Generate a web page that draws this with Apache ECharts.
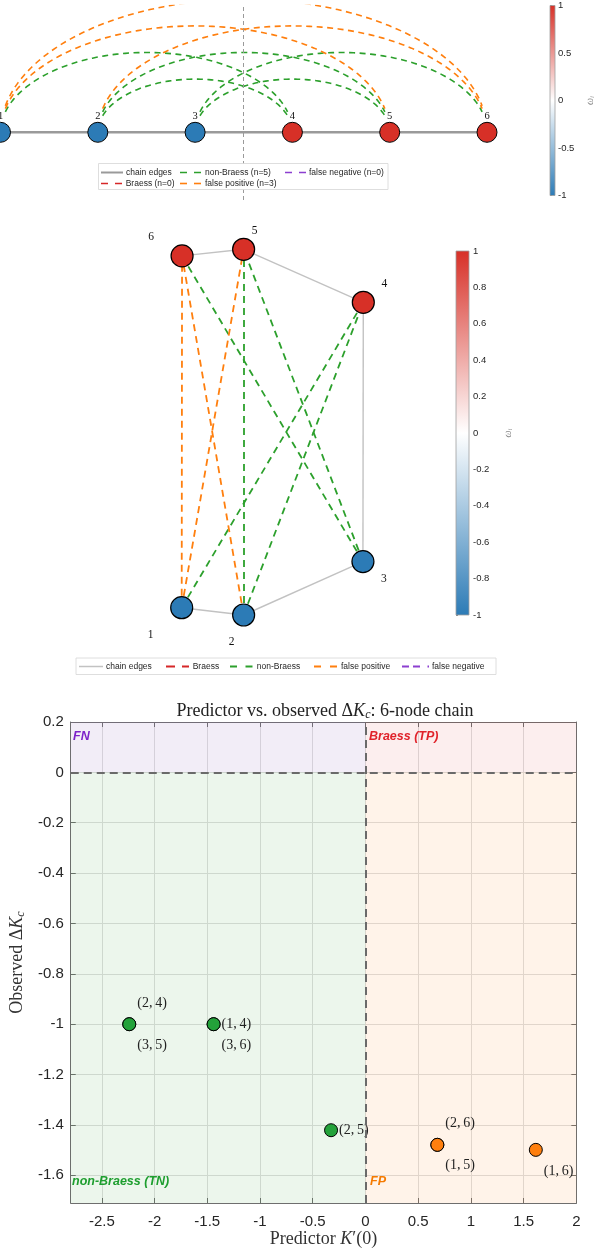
<!DOCTYPE html>
<html>
<head>
<meta charset="utf-8">
<script src="https://cdn.jsdelivr.net/npm/echarts@6/dist/echarts.min.js"></script>
<style>
  html, body { margin: 0; padding: 0; background: #ffffff; }
  #chart { width: 597px; height: 1249px; }
</style>
</head>
<body>
<div id="chart"></div>
<script>
// ---------------- data ----------------
const nodeIds = [1, 2, 3, 4, 5, 6];
const nodeOmega = [-1, -1, -1, 1, 1, 1];
// spring-style layout of the network view (normalised units)
const layoutX = [0.000, 0.341, 0.998, 1.000, 0.341, 0.002];
const layoutY = [0.020, 0.000, 0.146, 0.855, 1.000, 0.982];
const chainFrom = [1, 2, 3, 4, 5];
const chainTo = [2, 3, 4, 5, 6];
// candidate edges added to the chain
const edgeFrom = [2, 3, 1, 3, 2, 2, 1, 1];
const edgeTo = [4, 5, 4, 6, 5, 6, 5, 6];
const edgeClass = ['non-Braess', 'non-Braess', 'non-Braess', 'non-Braess', 'non-Braess',
                   'false positive', 'false positive', 'false positive'];
const predictorK = [-2.24, -2.24, -1.44, -1.44, -0.326, 0.682, 0.682, 1.616];
const observedDK = [-1.0, -1.0, -1.0, -1.0, -1.421, -1.479, -1.479, -1.499];
const classNames = ['Braess', 'non-Braess', 'false positive', 'false negative'];

// ---------------- styling ----------------
const SERIF = 'Liberation Serif';
const SANS = 'Liberation Sans';
const classColor = {
  'Braess': '#d62728',
  'non-Braess': '#2ca02c',
  'false positive': '#ff7f0e',
  'false negative': '#8c3fd0'
};
const BLUE = [44, 123, 182], RED = [215, 48, 39], WHITE = [255, 255, 255];
function omegaColor(w) {
  const t = Math.max(-1, Math.min(1, w));
  const end = t >= 0 ? RED : BLUE, a = Math.abs(t);
  const c = WHITE.map((v, k) => Math.round(v + (end[k] - v) * a));
  return 'rgb(' + c.join(',') + ')';
}
const barStops = [
  { offset: 0, color: omegaColor(1) },
  { offset: 0.5, color: omegaColor(0) },
  { offset: 1, color: omegaColor(-1) }
];
// label placement of the scatter annotations
const labelPlacement = ['above', 'below', 'right', 'below', 'right', 'above', 'below', 'below'];
const placementOffset = { above: [0, -21], below: [0, 21], right: [0, 0] };
// network-view label offsets (px) for nodes 1..6
const nodeLabelOffset = [[-31, 27], [-12, 27], [21, 17], [21, -18], [11, -18], [-31, -19]];

const counts = {};
classNames.forEach(c => counts[c] = edgeClass.filter(e => e === c).length);

// bottom axes extent
const xMin = -2.795, xMax = 2, yMin = -1.71, yMax = 0.2;

// ---------------- top: arc diagram ----------------
const arcEndGap = 0.05;
function arcPoints(i, j) {
  const c = (i + j) / 2, a = Math.abs(j - i) / 2, h = Math.abs(j - i);
  const t0 = Math.acos(1 - arcEndGap / a);
  const pts = [];
  const N = 90;
  for (let k = 0; k <= N; k++) {
    const t = Math.PI - t0 - (Math.PI - 2 * t0) * k / N;
    pts.push([c + a * Math.cos(t), h * Math.sin(t)]);
  }
  return pts;
}
const arcSeries = edgeFrom.map((f, k) => ({
  type: 'line', name: edgeClass[k], xAxisIndex: 0, yAxisIndex: 0,
  data: arcPoints(f, edgeTo[k]), symbol: 'none', smooth: false, silent: true,
  lineStyle: { color: classColor[edgeClass[k]], width: 1.6, type: [6, 4.5] }, z: 2
}));
const lastNeg = Math.max(...nodeIds.filter((id, k) => nodeOmega[k] < 0));
const firstPos = Math.min(...nodeIds.filter((id, k) => nodeOmega[k] > 0));

const topSeries = [
  {
    type: 'line', xAxisIndex: 0, yAxisIndex: 0, silent: true, symbol: 'none', z: 1,
    data: nodeIds.map(id => [id, 0]),
    lineStyle: { color: '#9a9a9a', width: 2.5 },
    markLine: {
      silent: true, symbol: 'none', label: { show: false },
      lineStyle: { color: '#9a9a9a', width: 1, type: [4, 3] },
      data: [{ xAxis: (lastNeg + firstPos) / 2 }]
    }
  },
  ...arcSeries,
  {
    type: 'scatter', xAxisIndex: 0, yAxisIndex: 0, silent: true, z: 4,
    symbolSize: 20,
    data: nodeIds.map((id, k) => ({
      value: [id, 0],
      itemStyle: { color: omegaColor(nodeOmega[k]), borderColor: '#000', borderWidth: 1, opacity: 1 }
    })),
    label: {
      show: true, position: 'top', distance: 0,
      formatter: p => String(nodeIds[p.dataIndex]),
      fontFamily: SERIF, fontSize: 10.5, color: '#111'
    }
  },
  {
    type: 'scatter', xAxisIndex: 0, yAxisIndex: 0, silent: true, z: 5,
    symbolSize: 20, itemStyle: { opacity: 0 },
    data: nodeIds.map(id => [id, 0]),
    label: {
      show: true, position: 'bottom', distance: 1,
      formatter: p => '{w|ω}= ' + (nodeOmega[p.dataIndex] > 0 ? '+1' : '−1'),
      fontFamily: SERIF, fontSize: 9, color: '#8a8a8a',
      rich: { w: { fontFamily: SERIF, fontStyle: 'italic', fontSize: 9, color: '#8a8a8a' } }
    }
  }
];

// ---------------- middle: network view ----------------
const graphLinks = [];
chainFrom.forEach((f, k) => graphLinks.push({
  source: String(f), target: String(chainTo[k]),
  lineStyle: { color: '#c2c2c2', width: 1.4, type: 'solid', opacity: 1 }
}));
edgeFrom.forEach((f, k) => graphLinks.push({
  source: String(f), target: String(edgeTo[k]),
  lineStyle: { color: classColor[edgeClass[k]], width: 1.8, type: [7, 5], opacity: 1 }
}));
const graphSeries = {
  type: 'graph', coordinateSystem: 'cartesian2d', xAxisIndex: 1, yAxisIndex: 1,
  silent: true, roam: false, symbolSize: 22, z: 3,
  edgeSymbol: ['none', 'none'],
  emphasis: { disabled: true },
  data: nodeIds.map((id, k) => ({
    name: String(id),
    value: [layoutX[k], layoutY[k]],
    itemStyle: { color: omegaColor(nodeOmega[k]), borderColor: '#000', borderWidth: 1.2, opacity: 1 },
    label: {
      show: true, position: 'inside', offset: nodeLabelOffset[k],
      formatter: String(id), fontFamily: SERIF, fontSize: 11.5, color: '#111'
    }
  })),
  links: graphLinks
};

// ---------------- colour bars ----------------
function colorBarSeries(xi) {
  return {
    type: 'custom', xAxisIndex: xi, yAxisIndex: xi, silent: true, z: 2,
    data: [[0, -1, 1]],
    renderItem: (params, api) => {
      const tl = api.coord([0, 1]);
      const br = api.coord([1, -1]);
      return {
        type: 'rect',
        shape: { x: tl[0], y: tl[1], width: br[0] - tl[0], height: br[1] - tl[1] },
        style: { fill: new echarts.graphic.LinearGradient(0, 0, 0, 1, barStops), stroke: '#a0a0a0', lineWidth: 0.8 }
      };
    }
  };
}

// ---------------- bottom: predictor vs observed ----------------
function scatterData(cls) {
  const out = [];
  edgeClass.forEach((c, k) => {
    if (c !== cls) return;
    out.push({
      value: [predictorK[k], observedDK[k]],
      label: {
        show: true, position: 'right', distance: 1,
        offset: placementOffset[labelPlacement[k]],
        formatter: '(' + edgeFrom[k] + ',\u2009' + edgeTo[k] + ')'
      }
    });
  });
  return out;
}
const pointLabel = { fontFamily: SERIF, fontSize: 14, color: '#222' };
const bottomSeries = [
  {
    type: 'scatter', name: 'non-Braess', xAxisIndex: 2, yAxisIndex: 2, z: 4,
    symbolSize: 13, silent: true,
    itemStyle: { color: '#23a23a', borderColor: '#000', borderWidth: 1, opacity: 1 },
    label: pointLabel,
    data: scatterData('non-Braess'),
    markArea: {
      silent: true,
      data: [
        [{ coord: [xMin, 0], itemStyle: { color: 'rgba(148,103,189,0.12)' } }, { coord: [0, yMax] }],
        [{ coord: [0, 0], itemStyle: { color: 'rgba(214,39,40,0.08)' } }, { coord: [xMax, yMax] }],
        [{ coord: [xMin, yMin], itemStyle: { color: 'rgba(44,160,44,0.09)' } }, { coord: [0, 0] }],
        [{ coord: [0, yMin], itemStyle: { color: 'rgba(255,127,14,0.09)' } }, { coord: [xMax, 0] }]
      ]
    },
    markLine: {
      silent: true, symbol: 'none', label: { show: false },
      lineStyle: { color: '#6a6a6a', width: 2, type: [8, 5] },
      data: [{ xAxis: 0 }, { yAxis: 0 }]
    }
  },
  {
    type: 'scatter', name: 'false positive', xAxisIndex: 2, yAxisIndex: 2, z: 4,
    symbolSize: 13, silent: true,
    itemStyle: { color: '#ff7f0e', borderColor: '#000', borderWidth: 1, opacity: 1 },
    label: pointLabel,
    data: scatterData('false positive')
  }
];

// ---------------- axes ----------------
const hiddenAxis = (gi, min, max) => ({ gridIndex: gi, type: 'value', min, max, show: false });
const axisText = { fontFamily: SANS, fontSize: 15, color: '#262626' };
const boxAxisLine = { show: true, onZero: false, lineStyle: { color: '#6e6e6e', width: 1 } };
const boxTick = { show: true, inside: true, length: 5, lineStyle: { color: '#6e6e6e' } };
const gridLine = { show: true, lineStyle: { color: '#dedede', width: 1 } };

// arc-diagram scale: px per node step and per unit of arc height
const stepPx = 97.3, risePx = 26.6, baseY = 132.3, topGrid = 5.5, topBottom = 200;
const topXMin = 1 - 0.5 / stepPx;
const option = {
  animation: false,
  backgroundColor: '#ffffff',
  title: {
    text: 'Predictor vs. observed Δ{i|K}{s|c}: 6-node chain',
    left: 320, top: 696, textAlign: 'center',
    textStyle: {
      fontFamily: SERIF, fontSize: 18, fontWeight: 'normal', color: '#222',
      rich: {
        i: { fontFamily: SERIF, fontSize: 18, fontStyle: 'italic', color: '#222' },
        s: { fontFamily: SERIF, fontSize: 12, fontStyle: 'italic', color: '#222', padding: [8, 0, 0, 0] }
      }
    }
  },
  grid: [
    { left: 0, top: topGrid, width: 597, height: topBottom - topGrid },
    { left: 181.7, top: 249.3, width: 181.6, height: 365.7 },
    { left: 68, top: 722, width: 508.3, height: 481 },
    { left: 550, top: 5.5, width: 13, height: 190 },
    { left: 456, top: 251, width: 13, height: 364 }
  ],
  xAxis: [
    hiddenAxis(0, topXMin, topXMin + 597 / stepPx),
    hiddenAxis(1, 0, 1),
    {
      gridIndex: 2, type: 'value', min: xMin, max: xMax, minInterval: 0.5, maxInterval: 0.5,
      axisLine: boxAxisLine, axisTick: boxTick, splitLine: gridLine,
      axisLabel: Object.assign({ margin: 11, showMinLabel: false, showMaxLabel: true }, axisText),
      name: 'Predictor {i|K}′(0)', nameLocation: 'middle', nameGap: 27,
      nameTextStyle: {
        fontFamily: SERIF, fontSize: 18, color: '#333',
        rich: { i: { fontFamily: SERIF, fontSize: 18, fontStyle: 'italic', color: '#333' } }
      }
    },
    hiddenAxis(3, 0, 1),
    hiddenAxis(4, 0, 1),
    {
      gridIndex: 2, type: 'value', position: 'top', min: xMin, max: xMax, minInterval: 0.5, maxInterval: 0.5,
      axisLine: boxAxisLine, axisTick: boxTick, axisLabel: { show: false }, splitLine: { show: false }
    }
  ],
  yAxis: [
    hiddenAxis(0, -(topBottom - baseY) / risePx, (baseY - topGrid) / risePx),
    hiddenAxis(1, 0, 1),
    {
      gridIndex: 2, type: 'value', min: yMin, max: yMax, minInterval: 0.2, maxInterval: 0.2,
      axisLine: boxAxisLine, axisTick: boxTick, splitLine: gridLine,
      axisLabel: Object.assign({ margin: 7, showMinLabel: false, showMaxLabel: true }, axisText),
      name: 'Observed Δ{i|K}{s|c}', nameLocation: 'middle', nameGap: 37, nameRotate: 90,
      nameTextStyle: {
        fontFamily: SERIF, fontSize: 18, color: '#333',
        rich: {
          i: { fontFamily: SERIF, fontSize: 18, fontStyle: 'italic', color: '#333' },
          s: { fontFamily: SERIF, fontSize: 12, fontStyle: 'italic', color: '#333', padding: [8, 0, 0, 0] }
        }
      }
    },
    {
      gridIndex: 3, type: 'value', min: -1, max: 1, interval: 0.5, position: 'right',
      axisLine: { show: false }, splitLine: { show: false },
      axisTick: { show: true, inside: false, length: 2, lineStyle: { color: '#888' } },
      axisLabel: { margin: 3, fontFamily: SANS, fontSize: 9.5, color: '#262626' },
      name: 'ω{s|i}', nameLocation: 'middle', nameGap: 30, nameRotate: 90,
      nameTextStyle: {
        fontFamily: SERIF, fontStyle: 'italic', fontSize: 10, color: '#888',
        rich: { s: { fontFamily: SERIF, fontStyle: 'italic', fontSize: 7, color: '#888', padding: [4, 0, 0, 0] } }
      }
    },
    {
      gridIndex: 4, type: 'value', min: -1, max: 1, interval: 0.2, position: 'right',
      axisLine: { show: false }, splitLine: { show: false },
      axisTick: { show: true, inside: false, length: 2, lineStyle: { color: '#888' } },
      axisLabel: { margin: 4, fontFamily: SANS, fontSize: 9.5, color: '#262626' },
      name: 'ω{s|i}', nameLocation: 'middle', nameGap: 34, nameRotate: 90,
      nameTextStyle: {
        fontFamily: SERIF, fontStyle: 'italic', fontSize: 10, color: '#888',
        rich: { s: { fontFamily: SERIF, fontStyle: 'italic', fontSize: 7, color: '#888', padding: [4, 0, 0, 0] } }
      }
    },
    {
      gridIndex: 2, type: 'value', position: 'right', min: yMin, max: yMax, minInterval: 0.2, maxInterval: 0.2,
      axisLine: boxAxisLine, axisTick: boxTick, axisLabel: { show: false }, splitLine: { show: false }
    }
  ],
  series: [
    ...topSeries,
    graphSeries,
    colorBarSeries(3),
    colorBarSeries(4),
    ...bottomSeries
  ],
  graphic: []
};

// ---------------- legends and quadrant captions ----------------
const G = [];
function legendItem(x1, x2, y, color, dash, width, text, tx, fs) {
  G.push({
    type: 'line', z: 101, silent: true,
    shape: { x1: x1, y1: y, x2: x2, y2: y },
    style: { stroke: color, lineWidth: width, lineDash: dash || null }
  });
  G.push({
    type: 'text', z: 101, silent: true, x: tx, y: y,
    style: { text: text, fill: '#262626', font: fs + 'px ' + SANS, verticalAlign: 'middle', align: 'left' }
  });
}
// arc-diagram legend
G.push({ type: 'rect', z: 100, silent: true, shape: { x: 98.5, y: 163.5, width: 289.5, height: 26 },
         style: { fill: '#fff', stroke: '#d6d6d6', lineWidth: 0.8 } });
legendItem(101, 123, 172.5, '#9a9a9a', null, 2, 'chain edges', 126, 8.5);
legendItem(180, 202, 172.5, classColor['non-Braess'], [7, 7], 1.6, 'non-Braess (n=' + counts['non-Braess'] + ')', 205, 8.5);
legendItem(285, 306, 172.5, classColor['false negative'], [7, 7], 1.6, 'false negative (n=' + counts['false negative'] + ')', 309, 8.5);
legendItem(101, 122, 183.5, classColor['Braess'], [7, 7], 1.6, 'Braess (n=' + counts['Braess'] + ')', 125.7, 8.5);
legendItem(180, 202, 183.5, classColor['false positive'], [7, 7], 1.6, 'false positive (n=' + counts['false positive'] + ')', 205, 8.5);
// network legend
G.push({ type: 'rect', z: 100, silent: true, shape: { x: 76, y: 658, width: 420, height: 16.5 },
         style: { fill: '#fff', stroke: '#d6d6d6', lineWidth: 0.8 } });
legendItem(79, 103, 666.5, '#c2c2c2', null, 1.5, 'chain edges', 106, 8.5);
legendItem(166, 189, 666.5, classColor['Braess'], [9, 7], 1.8, 'Braess', 192.7, 8.5);
legendItem(230, 253, 666.5, classColor['non-Braess'], [7, 8.5], 1.8, 'non-Braess', 256.7, 8.5);
legendItem(314, 338, 666.5, classColor['false positive'], [7, 9], 1.8, 'false positive', 341, 8.5);
legendItem(402, 429, 666.5, classColor['false negative'], [7, 4, 7, 7.5, 1.5, 10], 1.8, 'false negative', 432, 8.5);
// quadrant captions
function caption(x, y, text, color) {
  G.push({ type: 'text', z: 50, silent: true, x: x, y: y,
           style: { text: text, fill: color, font: 'italic bold 12.5px ' + SANS, verticalAlign: 'middle', align: 'left' } });
}
caption(73, 737, 'FN', '#7d22c9');
caption(369, 737, 'Braess (TP)', '#e0232b');
caption(72, 1182, 'non-Braess (TN)', '#1e9e2f');
caption(370, 1182, 'FP', '#f57a00');
option.graphic = G;

const chart = echarts.init(document.getElementById('chart'), null, { renderer: 'canvas' });
chart.setOption(option);
</script>
</body>
</html>
